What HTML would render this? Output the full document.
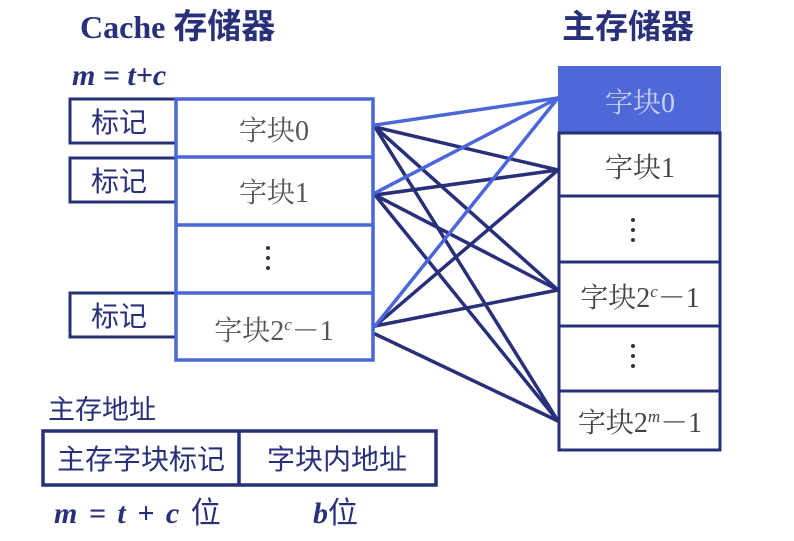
<!DOCTYPE html>
<html><head><meta charset="utf-8"><style>
html,body{margin:0;padding:0;background:#fff;}
svg{display:block;}
text{font-family:"Liberation Serif","Noto Serif CJK SC",serif;}
.cj{font-family:"Liberation Sans","Noto Sans CJK SC",sans-serif;}
.sc{font-family:"Noto Serif CJK SC",serif;}
</style></head><body>
<svg width="794" height="541" viewBox="0 0 794 541" xmlns="http://www.w3.org/2000/svg">
<g stroke-linecap="round">
<g stroke="#28307a" stroke-width="3.5">
<line x1="375" y1="127" x2="558" y2="170"/>
<line x1="375" y1="127" x2="558" y2="290"/>
<line x1="375" y1="127" x2="558" y2="421"/>
<line x1="375" y1="195" x2="558" y2="170"/>
<line x1="375" y1="195" x2="558" y2="290"/>
<line x1="375" y1="195" x2="558" y2="421"/>
<line x1="375" y1="326" x2="558" y2="170"/>
<line x1="375" y1="326" x2="558" y2="290"/>
<line x1="375" y1="334" x2="558" y2="421"/>
</g>
<g stroke="#4a66d8" stroke-width="3.5">
<line x1="375" y1="125" x2="558" y2="98"/>
<line x1="375" y1="193" x2="558" y2="98"/>
<line x1="375" y1="326" x2="558" y2="98"/>
</g>
</g>
<text x="80" y="38" font-size="32" font-weight="bold" fill="#28307a">Cache <tspan class="cj" font-size="34">存储器</tspan></text>
<text x="562" y="38" font-size="33" font-weight="bold" fill="#28307a" class="cj">主存储器</text>
<text x="72" y="85" font-size="30" font-weight="bold" font-style="italic" fill="#28307a">m = t+c</text>
<g fill="#fff" stroke="#28307a" stroke-width="3">
<rect x="70" y="99" width="106" height="44"/>
<rect x="70" y="158" width="106" height="44"/>
<rect x="70" y="293" width="106" height="44"/>
</g>
<g font-size="28" fill="#28307a" text-anchor="middle">
<text x="119" y="132" class="cj">标记</text>
<text x="119" y="191" class="cj">标记</text>
<text x="119" y="326" class="cj">标记</text>
</g>
<g fill="#fff" stroke="#4a66d8" stroke-width="3.5">
<rect x="176" y="99" width="197" height="261"/>
<line x1="176" y1="157" x2="373" y2="157"/>
<line x1="176" y1="225" x2="373" y2="225"/>
<line x1="176" y1="293" x2="373" y2="293"/>
</g>
<g font-size="28" fill="#555" text-anchor="middle">
<text x="274" y="140"><tspan class="sc">字块</tspan>0</text>
<text x="274" y="202"><tspan class="sc">字块</tspan>1</text>
<text x="274" y="340"><tspan class="sc">字块</tspan>2<tspan font-size="17" dy="-10" font-style="italic">c</tspan><tspan dy="10">－1</tspan></text>
</g>
<g fill="#333"><circle cx="268" cy="248" r="2"/><circle cx="268" cy="258" r="2"/><circle cx="268" cy="268" r="2"/></g>
<rect x="558" y="66" width="163" height="67" fill="#4f68d8"/>
<g fill="none" stroke="#28307a" stroke-width="3">
<rect x="559" y="133" width="161" height="317"/>
<line x1="559" y1="196" x2="720" y2="196"/>
<line x1="559" y1="262" x2="720" y2="262"/>
<line x1="559" y1="326" x2="720" y2="326"/>
<line x1="559" y1="391" x2="720" y2="391"/>
</g>
<g font-size="28" text-anchor="middle">
<text x="640" y="112" fill="#c8d0f0"><tspan class="sc">字块</tspan>0</text>
<text x="640" y="177" fill="#444"><tspan class="sc">字块</tspan>1</text>
<text x="640" y="307" fill="#444"><tspan class="sc">字块</tspan>2<tspan font-size="17" dy="-10" font-style="italic">c</tspan><tspan dy="10">－1</tspan></text>
<text x="640" y="432" fill="#444"><tspan class="sc">字块</tspan>2<tspan font-size="17" dy="-10" font-style="italic">m</tspan><tspan dy="10">－1</tspan></text>
</g>
<g fill="#333"><circle cx="633" cy="220" r="2"/><circle cx="633" cy="230" r="2"/><circle cx="633" cy="240" r="2"/>
<circle cx="633" cy="346" r="2"/><circle cx="633" cy="356" r="2"/><circle cx="633" cy="366" r="2"/></g>
<text x="48" y="419" font-size="27" fill="#28307a" class="cj">主存地址</text>
<g fill="none" stroke="#28307a" stroke-width="3.5">
<rect x="43" y="431" width="393" height="54"/>
<line x1="239" y1="431" x2="239" y2="485"/>
</g>
<text x="141" y="469" font-size="28" fill="#28307a" text-anchor="middle" class="cj">主存字块标记</text>
<text x="337" y="469" font-size="28" fill="#28307a" text-anchor="middle" class="cj">字块内地址</text>
<text x="54" y="523" font-size="30" font-weight="bold" font-style="italic" fill="#28307a" letter-spacing="2" xml:space="preserve">m = t + c <tspan class="cj" font-style="normal" font-weight="normal">位</tspan></text>
<text x="313" y="523" font-size="30" font-weight="bold" font-style="italic" fill="#28307a">b<tspan class="cj" font-style="normal" font-weight="normal">位</tspan></text>
</svg>
</body></html>
